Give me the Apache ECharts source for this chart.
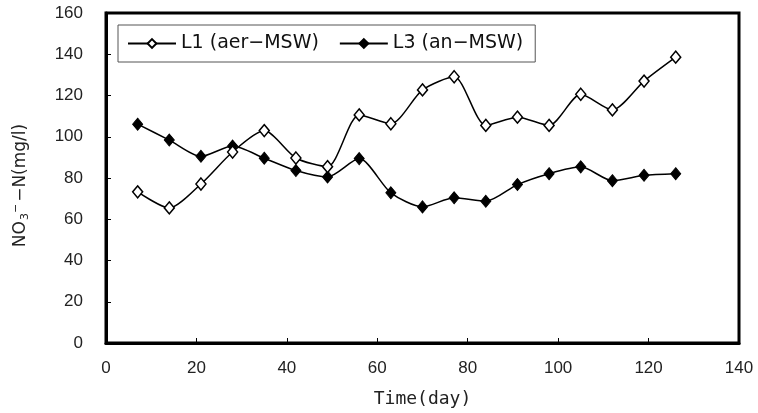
<!DOCTYPE html>
<html>
<head>
<meta charset="utf-8">
<script src="https://cdn.jsdelivr.net/npm/echarts@6/dist/echarts.min.js"></script>
<style>html,body{margin:0;padding:0;background:#fff;}#c{width:758px;height:413px;}</style>
</head>
<body>
<div id="c"></div>
<script>
var days = [7,14,21,28,35,42,49,56,63,70,77,84,91,98,105,112,119,126];
var L1 = [73.3,65.5,77.1,92.6,103.0,89.7,85.5,110.6,106.3,122.7,129.1,105.5,109.5,105.5,120.6,113.0,127.0,138.6];
var L3 = [106.1,98.4,90.5,95.5,89.6,83.6,80.5,89.4,72.8,66.0,70.4,68.7,76.8,82.1,85.4,78.7,81.3,82.1];
var xTicks = [0,20,40,60,80,100,120,140];
var yTicks = [0,20,40,60,80,100,120,140,160];
var seriesNames = ['L1 (aer\u2212MSW)', 'L3 (an\u2212MSW)'];

function pairs(xs, ys){ return xs.map(function(x,i){ return [x, ys[i]]; }); }

var chart = echarts.init(document.getElementById('c'), null, {renderer:'canvas'});
var font = 'Liberation Sans, Arial, sans-serif';
var dv = 'DejaVu Sans, sans-serif';
chart.setOption({
  animation: false,
  backgroundColor: '#fff',
  grid: {left: 106, right: 19, top: 13, bottom: 69, show: true, borderColor: '#000', borderWidth: 3, backgroundColor: 'transparent'},
  legend: {
    left: 118, top: 25,
    padding: [9, 12, 9, 9],
    borderColor: '#555', borderWidth: 1, borderRadius: 0,
    itemWidth: 48, itemHeight: 11, itemGap: 20,
    textStyle: {fontFamily: dv, fontSize: 19, color: '#111'},
    data: seriesNames
  },
  xAxis: {
    type: 'value', min: 0, max: 140, interval: 20,
    axisLine: {show: true, lineStyle: {color: '#000', width: 3}},
    axisTick: {show: true, inside: true, length: 5, lineStyle: {color: '#000', width: 1}},
    splitLine: {show: false},
    axisLabel: {fontFamily: font, fontSize: 17, color: '#222', margin: 17,
      formatter: function(v){ return xTicks.indexOf(v) >= 0 ? String(v) : ''; }},
    name: 'Time(day)', nameLocation: 'middle', nameGap: 47,
    nameTextStyle: {fontFamily: 'DejaVu Sans Mono, monospace', fontSize: 18, color: '#222'}
  },
  yAxis: {
    type: 'value', min: 0, max: 160, interval: 20,
    axisLine: {show: true, lineStyle: {color: '#000', width: 3}},
    axisTick: {show: true, inside: true, length: 5, lineStyle: {color: '#000', width: 1}},
    splitLine: {show: false},
    axisLabel: {fontFamily: font, fontSize: 17, color: '#222', margin: 23,
      formatter: function(v){ return yTicks.indexOf(v) >= 0 ? String(v) : ''; }},
    name: '{a|NO}{sub|3}{sup|\u2212}{a|\u2212N(mg/l)}', nameLocation: 'middle', nameGap: 74, nameRotate: 90,
    nameTextStyle: {
      fontFamily: dv, fontSize: 17, color: '#222',
      padding: [0, 15, 0, 0],
      rich: {
        a: {fontFamily: dv, fontSize: 17, color: '#222', lineHeight: 22, verticalAlign: 'middle'},
        sub: {fontFamily: dv, fontSize: 11, color: '#222', padding: [9, 0, 0, 1]},
        sup: {fontFamily: dv, fontSize: 11, color: '#222', padding: [0, 2, 10, 0]}
      }
    }
  },
  series: [
    {
      name: seriesNames[0], type: 'line', data: pairs(days, L1), smooth: 0.25,
      symbol: 'diamond', symbolSize: [10, 12],
      lineStyle: {color: '#000', width: 1.5},
      itemStyle: {color: '#fff', borderColor: '#000', borderWidth: 1.5},
      z: 3
    },
    {
      name: seriesNames[1], type: 'line', data: pairs(days, L3), smooth: 0.25,
      symbol: 'diamond', symbolSize: [10, 12],
      lineStyle: {color: '#000', width: 1.5},
      itemStyle: {color: '#000', borderColor: '#000', borderWidth: 1},
      z: 2
    }
  ]
});
</script>
</body>
</html>
